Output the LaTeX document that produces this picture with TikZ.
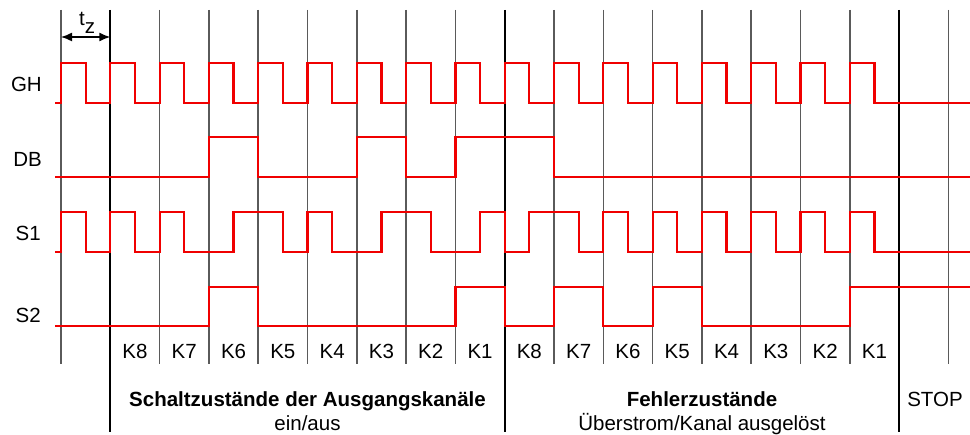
\documentclass[tikz,border=0pt]{standalone}
\usepackage{fontspec}
\setmainfont{Liberation Sans}
\usetikzlibrary{arrows.meta}
\definecolor{sigred}{RGB}{240,0,0}
\definecolor{gridgray}{RGB}{90,90,90}
\begin{document}
\begin{tikzpicture}[x=1pt,y=-1pt,
  sig/.style={draw=sigred,line width=2.2pt,line join=miter},
  thingrid/.style={draw=gridgray,line width=1.5pt},
  thickgrid/.style={draw=black,line width=2.3pt},
  lbl/.style={font=\fontsize{20.5}{24}\selectfont,inner sep=0pt,anchor=base},
  blbl/.style={lbl,font=\fontsize{20.5}{24}\selectfont\bfseries},
  dim/.style={draw=black,line width=1.4pt,{Latex[length=11pt,width=9pt]}-{Latex[length=11pt,width=9pt]}}]
\useasboundingbox (0,0) rectangle (970,435);
% grid
\foreach \k in {0,2,3,4,5,6,7,8,10,11,12,13,14,15,16,18}
  \draw[thingrid] ({61+49.3*\k},10) -- ({61+49.3*\k},364);
\foreach \k in {1,9,17}
  \draw[thickgrid] ({61+49.3*\k},10) -- ({61+49.3*\k},432);
% signals
\draw[sig] (55,103.3) foreach \a in {0,...,16} { -- ({61+49.3*\a},103.3) -- ++(0,-40) -- ++(24.65,0) -- ++(0,40) } -- (970,103.3);
\draw[sig] (55,176.7) foreach \a/\b in {6/8,12/14,16/20} { -- ({61+24.65*\a},176.7) -- ({61+24.65*\a},136.7) -- ({61+24.65*\b},136.7) -- ({61+24.65*\b},176.7) } -- (970,176.7);
\draw[sig] (55,251.7) foreach \a/\b in {0/1,2/3,4/5,7/9,10/11,13/15,17/18,19/21,22/23,24/25,26/27,28/29,30/31,32/33} { -- ({61+24.65*\a},251.7) -- ({61+24.65*\a},211.7) -- ({61+24.65*\b},211.7) -- ({61+24.65*\b},251.7) } -- (970,251.7);
\draw[sig] (55,326) foreach \a/\b in {6/8,16/18,20/22,24/26} { -- ({61+24.65*\a},326) -- ({61+24.65*\a},286.7) -- ({61+24.65*\b},286.7) -- ({61+24.65*\b},326) } -- ({61+24.65*32},326) -- ({61+24.65*32},286.7) -- (970,286.7);
% t_z
\coordinate (tzA) at (61,37);
\coordinate (tzB) at (110.3,37);
\draw[dim] (tzA) -- (tzB);
\node[lbl,anchor=base west] (tz) at (79,25.5) {t\raisebox{-8.5pt}{z}};
% signal names
\node[lbl,anchor=base east] (GH) at (42,91.7) {GH};
\node[lbl,anchor=base east] (DB) at (42,166.7) {DB};
\node[lbl,anchor=base east] (S1) at (41,240.7) {S1};
\node[lbl,anchor=base east] (S2) at (41,322.3) {S2};
% channel labels
\foreach \k/\t in {1/K8,2/K7,3/K6,4/K5,5/K4,6/K3,7/K2,8/K1,9/K8,10/K7,11/K6,12/K5,13/K4,14/K3,15/K2,16/K1}
  \node[lbl] (k\k) at ({61+49.3*\k+24.65},358.3) {\t};
% section labels
\node[blbl] (sz) at (307.5,406.5) {Schaltzustände der Ausgangskanäle};
\node[lbl] (ea) at (307.5,431) {ein/aus};
\node[blbl] (fz) at (702,406.5) {Fehlerzustände};
\node[lbl] (ue) at (702,431) {Überstrom/Kanal ausgelöst};
\node[lbl] (stop) at (935,406.7) {STOP};
\end{tikzpicture}
\end{document}
